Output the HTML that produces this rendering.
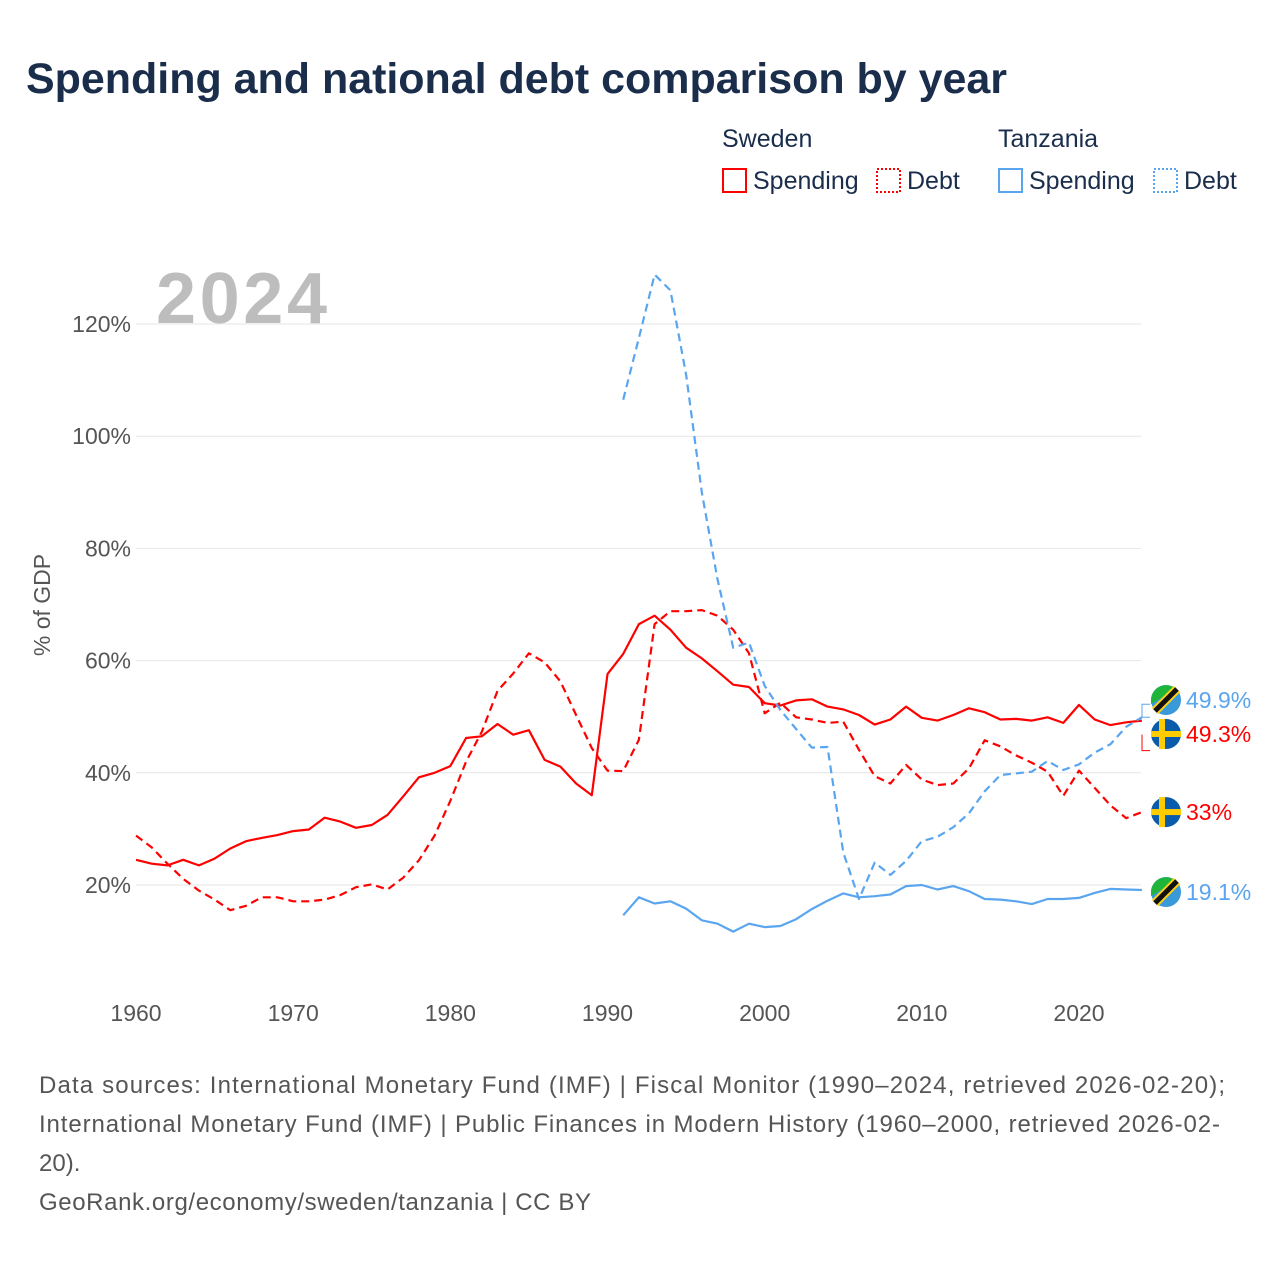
<!DOCTYPE html>
<html><head><meta charset="utf-8"><style>
body{margin:0;background:#fff;font-family:"Liberation Sans",sans-serif}
#wrap{position:relative;width:1280px;height:1280px;overflow:hidden}
</style></head><body>
<div id="wrap">
<svg id="chart" width="1280" height="1280" xmlns="http://www.w3.org/2000/svg">
<text x="26" y="93" font-size="43" font-weight="bold" fill="#1a2e4c" textLength="981">Spending and national debt comparison by year</text>
<g font-size="25" fill="#1a2e4c">
<text x="722" y="147">Sweden</text>
<text x="998" y="147">Tanzania</text>
<g><rect x="723" y="169" width="23" height="23" fill="none" stroke="#f00" stroke-width="2"/><text x="753" y="189">Spending</text></g>
<g><rect x="877" y="169" width="23" height="23" fill="none" stroke="#f00" stroke-width="2" stroke-dasharray="2,2"/><text x="907" y="189">Debt</text></g>
<g><rect x="999" y="169" width="23" height="23" fill="none" stroke="#5aa5f0" stroke-width="2"/><text x="1029" y="189">Spending</text></g>
<g><rect x="1154" y="169" width="23" height="23" fill="none" stroke="#5aa5f0" stroke-width="2" stroke-dasharray="2,2"/><text x="1184" y="189">Debt</text></g>
</g>
<text x="156" y="323" font-size="72" font-weight="bold" fill="#bdbdbd" textLength="171">2024</text>
<text transform="translate(50,605) rotate(-90)" text-anchor="middle" font-size="23" fill="#555">% of GDP</text>
<g id="grid"></g><g id="series"></g><g id="ends"></g>
<g font-size="24" fill="#555">
<text x="39" y="1093" textLength="1186">Data sources: International Monetary Fund (IMF) | Fiscal Monitor (1990–2024, retrieved 2026-02-20);</text>
<text x="39" y="1132" textLength="1181">International Monetary Fund (IMF) | Public Finances in Modern History (1960–2000, retrieved 2026-02-</text>
<text x="39" y="1171">20).</text>
<text x="39" y="1210" textLength="552">GeoRank.org/economy/sweden/tanzania | CC BY</text>
</g>
</svg></div>
<script>
const yTicks=[20,40,60,80,100,120];
const xTicks=[1960,1970,1980,1990,2000,2010,2020];
const sweYears=[];for(let y=1960;y<=2024;y++)sweYears.push(y);
const tzaYears=[];for(let y=1991;y<=2024;y++)tzaYears.push(y);
const sweSpending=[24.5,23.8,23.5,24.5,23.5,24.7,26.5,27.8,28.4,28.9,29.6,29.9,32,31.3,30.2,30.7,32.5,35.8,39.2,40,41.2,46.2,46.5,48.7,46.8,47.6,42.3,41.1,38.1,36,57.6,61.2,66.5,68,65.5,62.3,60.4,58.1,55.7,55.3,52.4,52,52.9,53.1,51.8,51.3,50.3,48.6,49.5,51.8,49.8,49.3,50.3,51.5,50.8,49.5,49.6,49.3,49.9,48.9,52.1,49.5,48.5,49,49.3];
const sweDebt=[28.8,26.7,23.8,21.1,19,17.4,15.5,16.3,17.8,17.8,17.1,17.1,17.4,18.2,19.6,20.1,19.2,21.3,24.4,28.8,35,42,47.3,54.6,57.7,61.3,59.7,56.3,50.3,44.4,40.4,40.3,45.9,66.5,68.8,68.8,69,68,65.5,61.3,50.6,52.5,49.9,49.5,48.9,49.1,44.1,39.4,38.1,41.4,38.8,37.8,38.1,40.8,45.8,44.7,43.1,41.8,40.2,35.9,40.4,37.3,34.2,31.9,33];
const tzaSpending=[14.6,17.8,16.7,17.1,15.8,13.7,13.1,11.7,13.1,12.5,12.7,13.9,15.7,17.2,18.5,17.8,18,18.3,19.8,20,19.2,19.8,18.9,17.5,17.4,17.1,16.6,17.5,17.5,17.7,18.6,19.3,19.2,19.1];
const tzaDebt=[106.5,117.5,128.8,126,111,90,74.5,62.3,63.2,55.5,51.2,47.8,44.5,44.6,25.8,17.5,24,21.8,24.3,27.8,28.6,30.3,32.8,36.7,39.6,39.9,40.2,42.1,40.5,41.5,43.6,45.1,48.2,49.9];
const NS='http://www.w3.org/2000/svg';
const X=y=>136+(y-1960)*(1079-136)/60;
const Y=v=>997.2-v*(885-324)/100;
function mk(t,a,p){const e=document.createElementNS(NS,t);for(const k in a)e.setAttribute(k,a[k]);p.appendChild(e);return e;}
const grid=document.getElementById('grid');
yTicks.forEach(v=>{
 const l=mk('line',{x1:136,x2:1141,y1:Y(v),y2:Y(v),stroke:'#e6e6e6','stroke-width':1},grid);
 
 
 const t=mk('text',{x:131,y:Y(v)+8,'text-anchor':'end','font-size':23,fill:'#555'},grid);t.textContent=v+'%';
 
 
});
xTicks.forEach(v=>{
 const t=mk('text',{x:X(v),y:1021,'text-anchor':'middle','font-size':23,fill:'#555'},grid);t.textContent=v;
 
 
});
const S=document.getElementById('series');
function line(ys,vs,col,dash,name){
 const d=vs.map((v,i)=>(i?'L':'M')+X(ys[i]).toFixed(1)+' '+Y(v).toFixed(1)).join(' ');
 const p=mk('path',{d:d,fill:'none',stroke:col,'stroke-width':2.2,'stroke-linejoin':'round'},S);
 if(dash)p.setAttribute('stroke-dasharray','8,5');
 
 
}
line(sweYears,sweDebt,'#f00',true,'sweden-debt-line');
line(sweYears,sweSpending,'#f00',false,'sweden-spending-line');
line(tzaYears,tzaDebt,'#5aa5f0',true,'tanzania-debt-line');
line(tzaYears,tzaSpending,'#5aa5f0',false,'tanzania-spending-line');
const E=document.getElementById('ends');
function flag(cy,swe,label,col,name){
 const g=mk('g',{},E);
 
 
 if(swe){
  mk('circle',{cx:1166,cy:cy,r:15,fill:'#0a5cab'},g);
  mk('rect',{x:1151,y:cy-3,width:30,height:6,fill:'#fc0'},g);
  mk('rect',{x:1159,y:cy-15,width:6,height:30,fill:'#fc0'},g);
 }else{
  mk('circle',{cx:1166,cy:cy,r:15,fill:'#3a9ad9'},g);
  mk('path',{d:`M1151 ${cy} A15 15 0 0 1 1176 ${cy-11} L1151 ${cy+4}Z`,fill:'#1eb53a'},g);
  mk('line',{x1:1155,y1:cy+11,x2:1177,y2:cy-11,stroke:'#fcd116','stroke-width':9},g);
  mk('line',{x1:1155,y1:cy+11,x2:1177,y2:cy-11,stroke:'#111','stroke-width':5},g);
 }
 const t=mk('text',{x:1186,y:cy+8,'font-size':23,fill:col},g);t.textContent=label;
}
const last=a=>a[a.length-1];
mk('path',{d:`M1150 ${Y(last(tzaDebt))} H1142 V${Y(last(tzaDebt))-13} H1150`,fill:'none',stroke:'#5aa5f0','stroke-width':1},E);
mk('path',{d:`M1150 ${Y(last(sweSpending))+30} H1142 V${Y(last(sweSpending))+14} `,fill:'none',stroke:'#f00','stroke-width':1},E);
flag(700,false,last(tzaDebt)+'%','#5aa5f0','tanzania-debt-end-label');
flag(734,true,last(sweSpending)+'%','#f00','sweden-spending-end-label');
flag(Y(last(sweDebt)),true,last(sweDebt)+'%','#f00','sweden-debt-end-label');
flag(Y(last(tzaSpending))+2,false,last(tzaSpending)+'%','#5aa5f0','tanzania-spending-end-label');
</script>
</body></html>
